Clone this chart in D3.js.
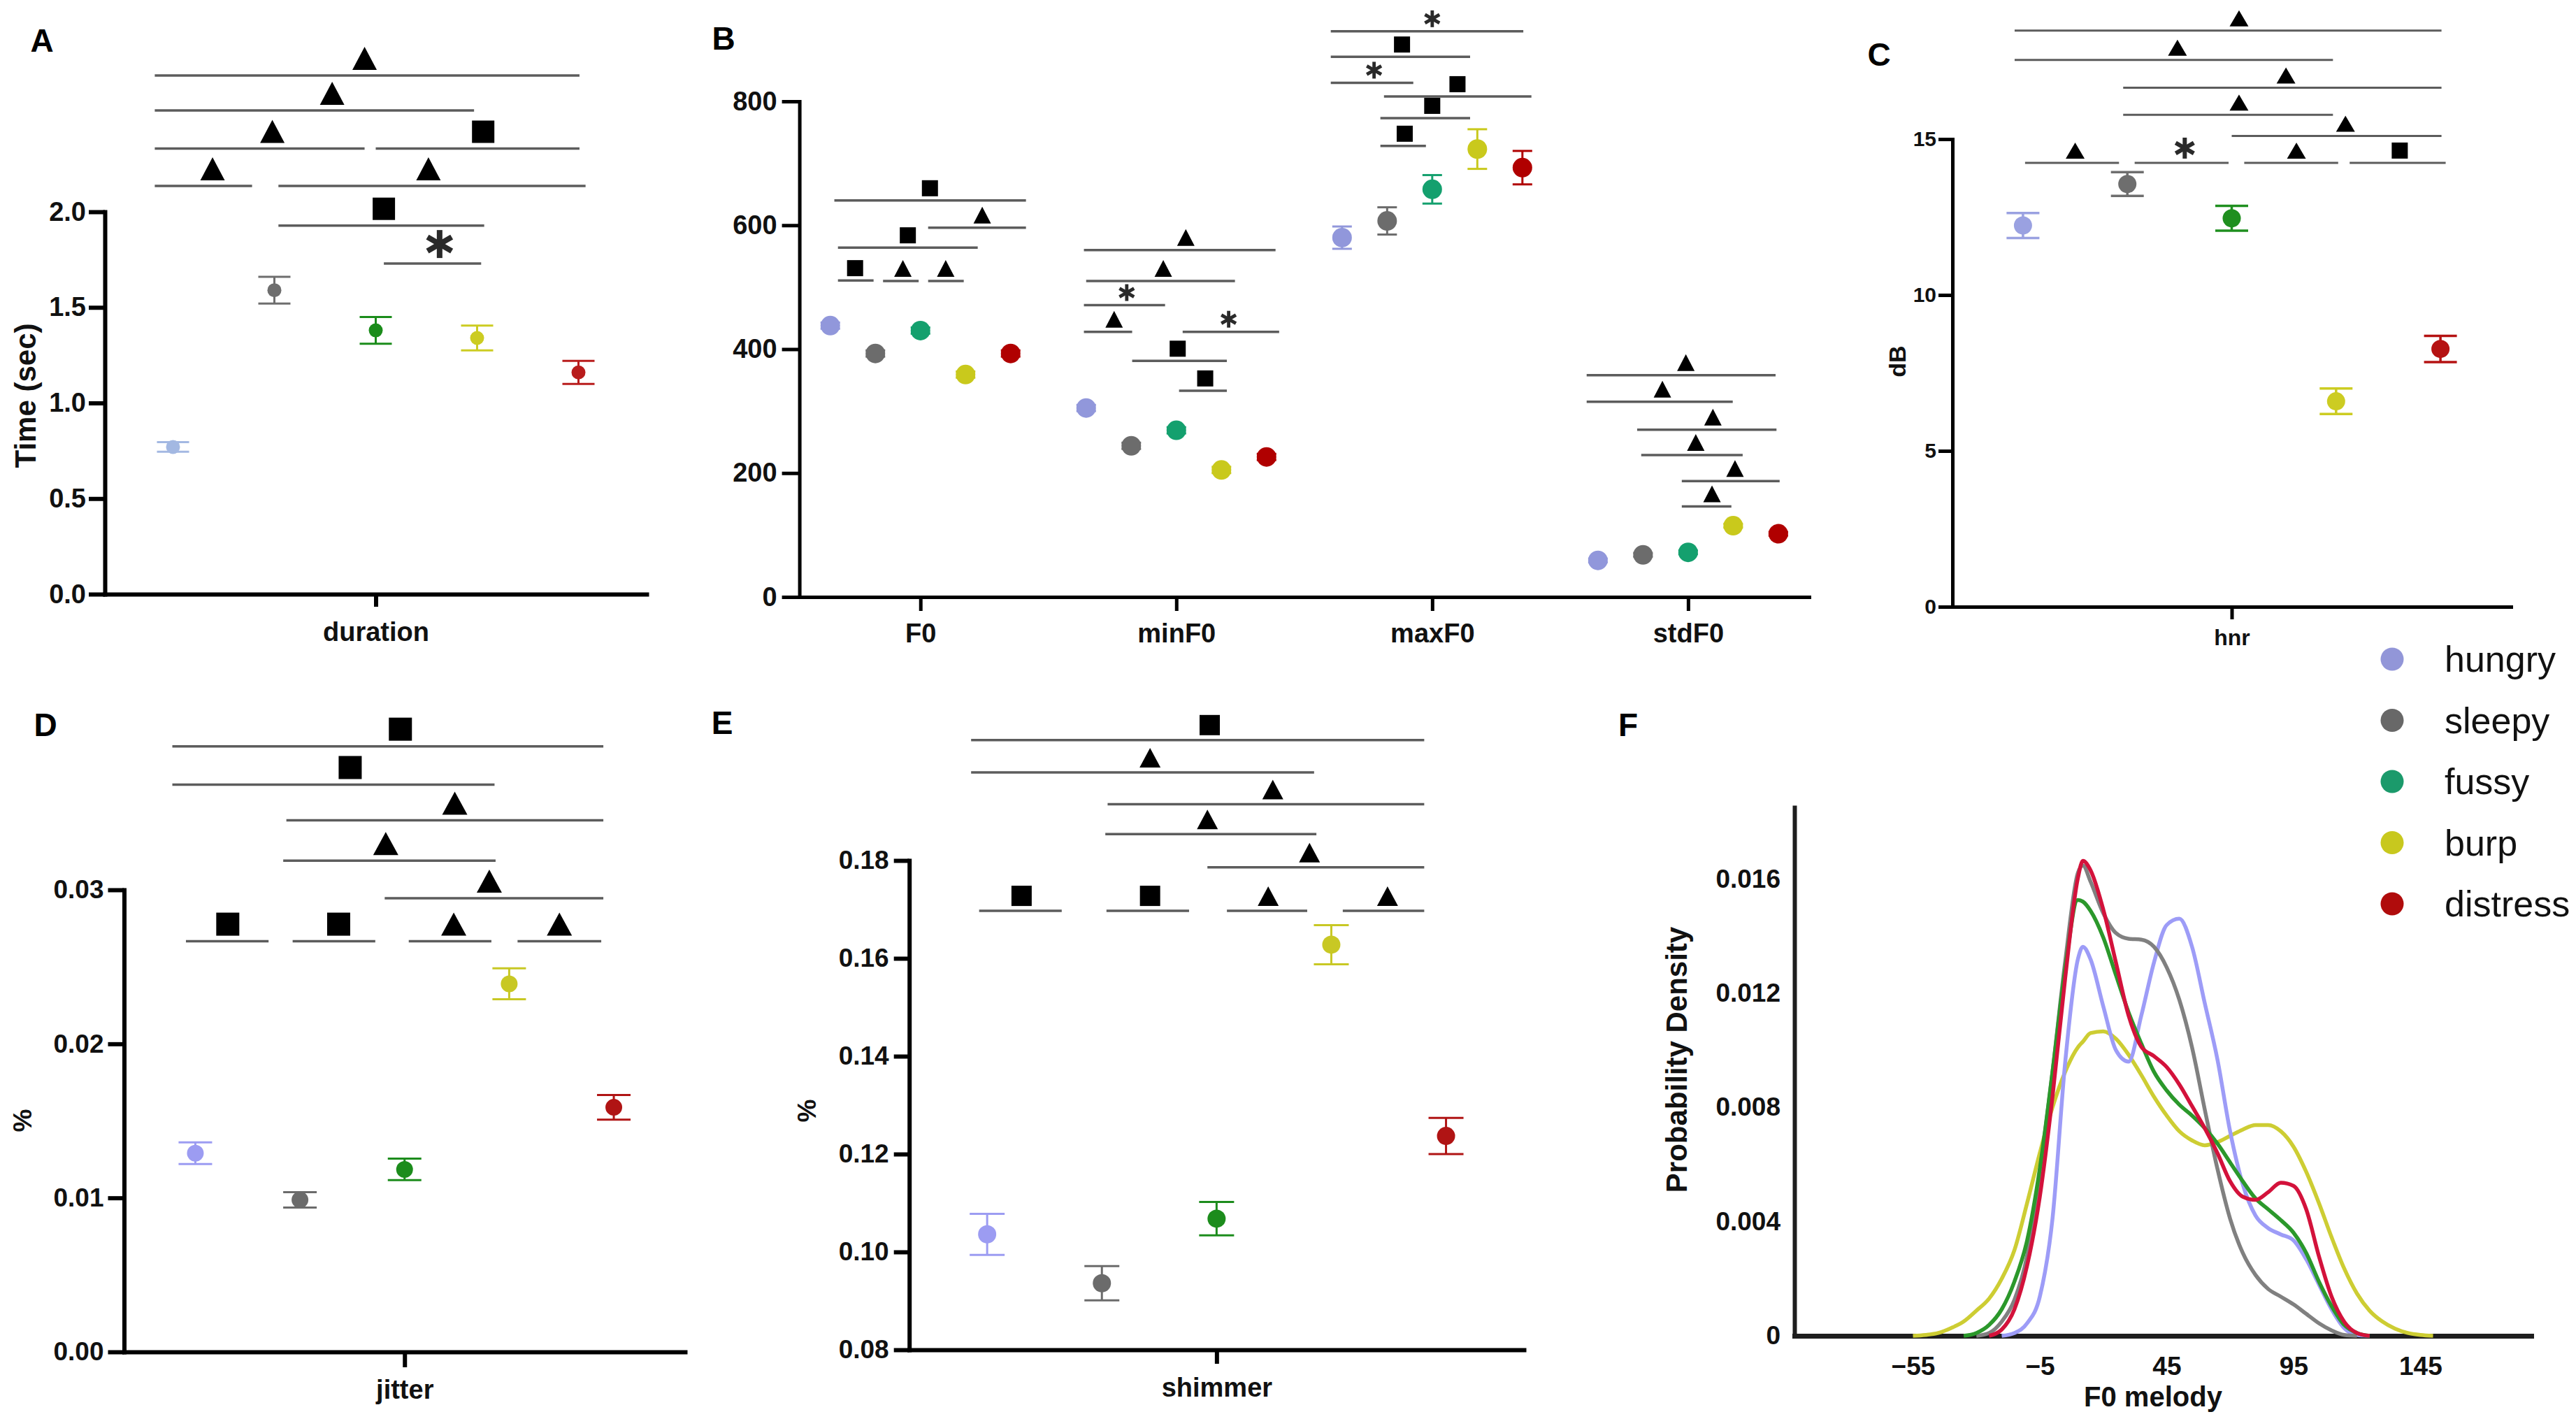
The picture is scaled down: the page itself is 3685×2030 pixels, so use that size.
<!DOCTYPE html>
<html><head><meta charset="utf-8">
<script src="https://cdn.jsdelivr.net/npm/d3@7"></script>
<style>
html,body{margin:0;padding:0;background:#fff;}
svg{display:block;}
</style></head><body>
<svg id="chart" width="3685" height="2030"></svg>
<script>
// ======================= DATA =======================
const groups = ["hungry", "sleepy", "fussy", "burp", "distress"];

// Panel A : duration
const durationCats = ["duration"];
const durationMean = [0.77, 1.59, 1.38, 1.34, 1.16];
const durationSE   = [0.025, 0.07, 0.07, 0.065, 0.06];
const durationTicks = [0, 0.5, 1.0, 1.5, 2.0];
const durationSig = [
  {a:-0.18, b:4.01, y:2.713, s:"tri", at:1.89},
  {a:-0.18, b:2.97, y:2.530, s:"tri", at:1.57},
  {a:-0.18, b:1.89, y:2.331, s:"tri", at:0.98},
  {a:2.00,  b:4.01, y:2.331, s:"sq",  at:3.06},
  {a:-0.18, b:0.78, y:2.135, s:"tri", at:0.39},
  {a:1.04,  b:4.07, y:2.135, s:"tri", at:2.52},
  {a:1.04,  b:3.07, y:1.928, s:"sq",  at:2.08},
  {a:2.08,  b:3.04, y:1.729, s:"ast", at:2.63}
];

// Panel B : pitch measures
const pitchCats = ["F0", "minF0", "maxF0", "stdF0"];
const f0Mean    = [438, 393, 430, 359, 393];
const f0SE      = [5, 5, 5, 5, 5];
const minF0Mean = [305, 244, 269, 205, 226];
const minF0SE   = [5, 5, 5, 5, 5];
const maxF0Mean = [580, 607, 658, 723, 693];
const maxF0SE   = [18, 22, 23, 32, 27];
const stdF0Mean = [59, 68, 72, 115, 102];
const stdF0SE   = [3, 3, 3, 3, 3];
const pitchTicks = [0, 200, 400, 600, 800];
const pitchSig = [
  {c:0, a:0.09,  b:4.34, y:640, s:"sq",  at:2.21},
  {c:0, a:2.17,  b:4.34, y:596, s:"tri", at:3.37},
  {c:0, a:0.17,  b:3.27, y:564, s:"sq",  at:1.72},
  {c:0, a:0.17,  b:0.96, y:511, s:"sq",  at:0.55},
  {c:0, a:1.17,  b:1.96, y:510, s:"tri", at:1.61},
  {c:0, a:2.17,  b:2.96, y:510, s:"tri", at:2.56},
  {c:1, a:-0.05, b:4.20, y:560, s:"tri", at:2.21},
  {c:1, a:0.00,  b:3.30, y:510, s:"tri", at:1.71},
  {c:1, a:-0.05, b:1.75, y:471, s:"ast", at:0.90},
  {c:1, a:-0.05, b:1.02, y:428, s:"tri", at:0.62},
  {c:1, a:2.14,  b:4.28, y:428, s:"ast", at:3.16},
  {c:1, a:1.02,  b:3.12, y:381, s:"sq",  at:2.03},
  {c:1, a:2.06,  b:3.12, y:333, s:"sq",  at:2.64},
  {c:2, a:-0.25, b:4.02, y:913, s:"ast", at:2.00},
  {c:2, a:-0.25, b:2.84, y:872, s:"sq",  at:1.33},
  {c:2, a:-0.25, b:1.58, y:830, s:"ast", at:0.71},
  {c:2, a:0.93,  b:4.20, y:808, s:"sq",  at:2.56},
  {c:2, a:0.85,  b:2.84, y:773, s:"sq",  at:2.00},
  {c:2, a:0.85,  b:1.86, y:728, s:"sq",  at:1.39},
  {c:3, a:-0.25, b:3.94, y:358, s:"tri", at:1.95},
  {c:3, a:-0.25, b:2.99, y:315, s:"tri", at:1.43},
  {c:3, a:0.87,  b:3.96, y:270, s:"tri", at:2.55},
  {c:3, a:0.96,  b:3.21, y:229, s:"tri", at:2.17},
  {c:3, a:1.86,  b:4.03, y:187, s:"tri", at:3.04},
  {c:3, a:1.86,  b:2.96, y:146, s:"tri", at:2.53}
];

// Panel C : hnr
const hnrCats = ["hnr"];
const hnrMean = [12.23, 13.56, 12.46, 6.59, 8.27];
const hnrSE   = [0.40, 0.38, 0.40, 0.41, 0.42];
const hnrTicks = [0, 5, 10, 15];
const hnrSig = [
  {a:-0.08, b:4.01, y:18.48, s:"tri", at:2.07},
  {a:-0.08, b:2.97, y:17.54, s:"tri", at:1.48},
  {a:0.96,  b:4.01, y:16.65, s:"tri", at:2.52},
  {a:0.96,  b:2.97, y:15.78, s:"tri", at:2.07},
  {a:2.00,  b:4.01, y:15.10, s:"tri", at:3.09},
  {a:0.02,  b:0.92, y:14.24, s:"tri", at:0.50},
  {a:1.07,  b:1.97, y:14.24, s:"ast", at:1.55},
  {a:2.12,  b:3.02, y:14.24, s:"tri", at:2.62},
  {a:3.13,  b:4.05, y:14.24, s:"sq",  at:3.61}
];

// Panel D : jitter
const jitterCats = ["jitter"];
const jitterMean = [0.0129, 0.00987, 0.01185, 0.0239, 0.01588];
const jitterSE   = [0.0007, 0.0005, 0.0007, 0.0010, 0.0008];
const jitterTicks = [0, 0.01, 0.02, 0.03];
const jitterSig = [
  {a:-0.22, b:3.90, y:0.03932, s:"sq",  at:1.96},
  {a:-0.22, b:2.86, y:0.03683, s:"sq",  at:1.48},
  {a:0.87,  b:3.90, y:0.03452, s:"tri", at:2.48},
  {a:0.84,  b:2.87, y:0.03189, s:"tri", at:1.82},
  {a:1.81,  b:3.90, y:0.02945, s:"tri", at:2.81},
  {a:-0.09, b:0.70, y:0.02666, s:"sq",  at:0.31},
  {a:0.93,  b:1.72, y:0.02666, s:"sq",  at:1.37},
  {a:2.04,  b:2.83, y:0.02666, s:"tri", at:2.47},
  {a:3.08,  b:3.88, y:0.02666, s:"tri", at:3.48}
];

// Panel E : shimmer
const shimmerCats = ["shimmer"];
const shimmerMean = [0.1036, 0.0936, 0.1068, 0.1628, 0.1237];
const shimmerSE   = [0.0042, 0.0035, 0.0034, 0.0040, 0.0037];
const shimmerTicks = [0.08, 0.10, 0.12, 0.14, 0.16, 0.18];
const shimmerSig = [
  {a:-0.14, b:3.81, y:0.2046, s:"sq",  at:1.94},
  {a:-0.14, b:2.85, y:0.1980, s:"tri", at:1.42},
  {a:1.05,  b:3.81, y:0.1915, s:"tri", at:2.49},
  {a:1.03,  b:2.87, y:0.1854, s:"tri", at:1.92},
  {a:1.92,  b:3.81, y:0.1786, s:"tri", at:2.81},
  {a:-0.07, b:0.65, y:0.1697, s:"sq",  at:0.30},
  {a:1.04,  b:1.76, y:0.1697, s:"sq",  at:1.42},
  {a:2.09,  b:2.79, y:0.1697, s:"tri", at:2.45},
  {a:3.10,  b:3.81, y:0.1697, s:"tri", at:3.49}
];

// Panel F : F0 melody density
const melodyX = [-55,-50,-45,-40,-35,-30,-25,-20,-15,-10,-5,0,5,10,12,15,20,25,30,35,40,45,50,55,60,65,70,75,80,85,90,95,100,105,110,115,120,125,130,135,140,145,150];
const densHungry   = [0,0,0,0,0,0,0,0,0.0001,0.00044,0.00137,0.0041,0.00957,0.01318,0.01362,0.01318,0.01154,0.0100,0.0096,0.01121,0.01307,0.01438,0.0146,0.01362,0.01165,0.00968,0.00716,0.0053,0.00421,0.00377,0.00355,0.00334,0.00268,0.0018,0.00093,0.00027,0.00003,0,0,0,0,0,0];
const densSleepy   = [0,0,0,0,0,0,0.0001,0.0005,0.00126,0.0028,0.00574,0.00924,0.0131,0.0162,0.01646,0.0159,0.0148,0.0141,0.0139,0.01387,0.01362,0.0129,0.01176,0.0101,0.00793,0.00585,0.0041,0.0029,0.00213,0.00164,0.00137,0.0011,0.00077,0.00044,0.00019,0.00003,0,0,0,0,0,0,0];
const densFussy    = [0,0,0,0,0,0.0001,0.00038,0.00093,0.0019,0.00334,0.00585,0.00924,0.01285,0.01526,0.0152,0.01488,0.01395,0.01263,0.01132,0.01023,0.00924,0.00859,0.00809,0.00771,0.00727,0.00673,0.00607,0.00541,0.00481,0.00443,0.00405,0.00361,0.0029,0.0019,0.00104,0.00038,0.0001,0,0,0,0,0,0];
const densBurp     = [0,0.00003,0.0001,0.00027,0.0005,0.00088,0.0013,0.002,0.003,0.00465,0.0064,0.008,0.00924,0.0101,0.0103,0.0106,0.01066,0.0104,0.00984,0.00913,0.00837,0.00771,0.00716,0.00684,0.00667,0.00678,0.007,0.00722,0.00738,0.00738,0.00716,0.00662,0.00574,0.00465,0.00345,0.00235,0.00148,0.00088,0.0005,0.00025,0.0001,0.00003,0];
const densDistress = [0,0,0,0,0,0,0,0.00022,0.00093,0.00246,0.00487,0.00837,0.01252,0.01602,0.01663,0.0163,0.01493,0.01307,0.01121,0.01012,0.00979,0.00941,0.0088,0.00804,0.00727,0.0064,0.00541,0.00487,0.00476,0.00503,0.00536,0.00525,0.00443,0.00279,0.00137,0.00049,0.0001,0,0,0,0,0,0];
const melodyXTicks = [-55, -5, 45, 95, 145];
const melodyYTicks = [0, 0.004, 0.008, 0.012, 0.016];

// ======================= STYLE =======================
const colorsA  = ["#a3b8e2", "#6e6e6e", "#1b8c1b", "#cccc22", "#b81c1c"];
const colorsB  = ["#9197db", "#6c6c6c", "#14a06e", "#c9c91c", "#b00000"];
const colorsC  = ["#9aa1e1", "#6e6e6e", "#1f8f1f", "#cccc22", "#b51212"];
const colorsDE = ["#9c9cf2", "#6b6b6b", "#1c8c1c", "#c8c824", "#b01414"];
const colorsF  = ["#9d9cf7", "#808080", "#2b982b", "#cdcd33", "#d3123b"];
const legendColors = ["#9296d8", "#686868", "#1b9a6b", "#c8c81e", "#b00c0c"];
const FONT = '"Liberation Sans", Arial, Helvetica, sans-serif';
const SIGCOL = "#5c5c5c";

const svg = d3.select("#chart");
svg.append("rect").attr("width", 3685).attr("height", 2030).attr("fill", "#fff");

function drawSymbol(g, kind, cx, lineY, st) {
  const yb = lineY - st.gap;
  if (kind === "tri") {
    g.append("path")
      .attr("d", `M${cx - st.triW/2},${yb} L${cx + st.triW/2},${yb} L${cx},${yb - st.triH} Z`)
      .attr("fill", "#000");
  } else if (kind === "sq") {
    g.append("rect").attr("x", cx - st.sq/2).attr("y", yb - st.sq)
      .attr("width", st.sq).attr("height", st.sq).attr("fill", "#000");
  } else {
    const r = st.ast / 2, cy = yb - r;
    [90, 30, 150].forEach(deg => {
      const t = deg * Math.PI / 180;
      g.append("line")
        .attr("x1", cx - r * Math.cos(t)).attr("y1", cy - r * Math.sin(t))
        .attr("x2", cx + r * Math.cos(t)).attr("y2", cy + r * Math.sin(t))
        .attr("stroke", "#2a2a2a").attr("stroke-width", st.ast * 0.2);
    });
  }
}

function styleAxis(ax, w, fs, weight) {
  ax.attr("font-family", FONT).attr("font-size", fs);
  ax.select(".domain").attr("stroke", "#000").attr("stroke-width", w).attr("stroke-linecap", "square");
  ax.selectAll(".tick line").attr("stroke", "#000").attr("stroke-width", w);
  ax.selectAll(".tick text").attr("fill", "#111").attr("font-weight", weight || "bold");
}

function dotPanel(o) {
  const g = svg.append("g");
  const x = d3.scalePoint().domain(o.cats).range(o.xRange).padding(o.pad);
  const off = d3.scaleLinear().domain([0, 4]).range([-2 * o.sp, 2 * o.sp]);
  const y = d3.scaleLinear().domain(o.yDomain).range(o.yRange);
  const px = (c, i) => x(o.cats[c]) + off(i);

  // significance bars
  const sg = g.append("g");
  o.sig.forEach(s => {
    const c = s.c || 0;
    const ly = y(s.y);
    sg.append("line").attr("x1", px(c, s.a)).attr("x2", px(c, s.b))
      .attr("y1", ly).attr("y2", ly)
      .attr("stroke", SIGCOL).attr("stroke-width", o.sigW);
    drawSymbol(sg, s.s, px(c, s.at), ly, o.sym);
  });

  // axes
  const ya = g.append("g").attr("transform", `translate(${o.xRange[0]},0)`)
    .call(d3.axisLeft(y).tickValues(o.ticks).tickFormat(o.fmt)
      .tickSize(o.tickLen).tickPadding(o.tickPad).tickSizeOuter(0));
  styleAxis(ya, o.axisW, o.fs);
  const xa = g.append("g").attr("transform", `translate(0,${o.yRange[0]})`)
    .call(d3.axisBottom(x).tickSize(o.xTickLen).tickPadding(o.xPad).tickSizeOuter(0));
  styleAxis(xa, o.axisW, o.xfs);

  // points with error bars
  o.series.forEach((ser, c) => {
    ser.mean.forEach((m, i) => {
      const cx = px(c, i), col = o.colors[i];
      const y1 = y(m - ser.se[i]), y2 = y(m + ser.se[i]);
      g.append("line").attr("x1", cx).attr("x2", cx).attr("y1", y1).attr("y2", y2)
        .attr("stroke", col).attr("stroke-width", o.ebW);
      [y1, y2].forEach(yy => g.append("line")
        .attr("x1", cx - o.capW/2).attr("x2", cx + o.capW/2).attr("y1", yy).attr("y2", yy)
        .attr("stroke", col).attr("stroke-width", o.ebW));
      g.append("circle").attr("cx", cx).attr("cy", y(m)).attr("r", o.r).attr("fill", col);
    });
  });

  // y label
  g.append("text").attr("transform", `translate(${o.yLabelPos[0]},${o.yLabelPos[1]}) rotate(-90)`)
    .attr("text-anchor", "middle").attr("dominant-baseline", "central")
    .attr("font-family", FONT).attr("font-weight", "bold").attr("font-size", o.ylfs)
    .attr("fill", "#111").text(o.yLabel);
  // panel letter
  g.append("text").attr("x", o.letterPos[0]).attr("y", o.letterPos[1])
    .attr("text-anchor", "middle").attr("dominant-baseline", "central")
    .attr("font-family", FONT).attr("font-weight", "bold").attr("font-size", 46)
    .attr("fill", "#000").text(o.letter);
}

// ---------- Panel A ----------
dotPanel({
  cats: durationCats, xRange: [150, 925], pad: 0.5, sp: 145,
  yDomain: [0, 2], yRange: [850, 303], ticks: durationTicks, fmt: d3.format(".1f"),
  tickLen: 23, tickPad: 4, fs: 38, xTickLen: 18, xPad: 22, xfs: 38, axisW: 6,
  series: [{mean: durationMean, se: durationSE}], colors: colorsA,
  r: 10, capW: 46, ebW: 3, sig: durationSig, sigW: 3.5,
  sym: {triW: 35, triH: 33, sq: 32, ast: 40, gap: 8},
  yLabel: "Time (sec)", yLabelPos: [36, 566], ylfs: 42, letter: "A", letterPos: [60, 58]
});

// ---------- Panel B ----------
dotPanel({
  cats: pitchCats, xRange: [1143.6, 2588], pad: 0.473, sp: 64.5,
  yDomain: [0, 800], yRange: [854, 145], ticks: pitchTicks, fmt: d3.format("d"),
  tickLen: 25, tickPad: 7, fs: 38, xTickLen: 20, xPad: 18, xfs: 38, axisW: 5,
  series: [{mean: f0Mean, se: f0SE}, {mean: minF0Mean, se: minF0SE},
           {mean: maxF0Mean, se: maxF0SE}, {mean: stdF0Mean, se: stdF0SE}],
  colors: colorsB, r: 14, capW: 28, ebW: 3, sig: pitchSig, sigW: 3.5,
  sym: {triW: 25, triH: 24, sq: 23, ast: 24, gap: 6},
  yLabel: "", yLabelPos: [0, 0], ylfs: 10, letter: "B", letterPos: [1035, 55]
});

// ---------- Panel C ----------
dotPanel({
  cats: hnrCats, xRange: [2793, 3592], pad: 0.5, sp: 149.3,
  yDomain: [0, 15], yRange: [868, 199], ticks: hnrTicks, fmt: d3.format("d"),
  tickLen: 20, tickPad: 3, fs: 30, xTickLen: 18, xPad: 14, xfs: 32, axisW: 5,
  series: [{mean: hnrMean, se: hnrSE}], colors: colorsC,
  r: 13, capW: 47, ebW: 3.5, sig: hnrSig, sigW: 3,
  sym: {triW: 27, triH: 23, sq: 23, ast: 30, gap: 6},
  yLabel: "dB", yLabelPos: [2714, 517], ylfs: 34, letter: "C", letterPos: [2688, 78]
});

// ---------- Panel D ----------
dotPanel({
  cats: jitterCats, xRange: [177.5, 980], pad: 0.5, sp: 149.65,
  yDomain: [0, 0.03], yRange: [1934, 1273], ticks: jitterTicks, fmt: d3.format(".2f"),
  tickLen: 23, tickPad: 6, fs: 37, xTickLen: 22, xPad: 18, xfs: 38, axisW: 6,
  series: [{mean: jitterMean, se: jitterSE}], colors: colorsDE,
  r: 12, capW: 48, ebW: 3, sig: jitterSig, sigW: 3.5,
  sym: {triW: 36, triH: 33, sq: 33, ast: 36, gap: 8},
  yLabel: "%", yLabelPos: [32, 1603], ylfs: 37, letter: "D", letterPos: [65, 1037]
});

// ---------- Panel E ----------
dotPanel({
  cats: shimmerCats, xRange: [1300.7, 2180], pad: 0.5, sp: 164.1,
  yDomain: [0.08, 0.18], yRange: [1931, 1231], ticks: shimmerTicks, fmt: d3.format(".2f"),
  tickLen: 22, tickPad: 7, fs: 37, xTickLen: 20, xPad: 20, xfs: 38, axisW: 6,
  series: [{mean: shimmerMean, se: shimmerSE}], colors: colorsDE,
  r: 13, capW: 50, ebW: 3, sig: shimmerSig, sigW: 3.5,
  sym: {triW: 30, triH: 28, sq: 29, ast: 30, gap: 7},
  yLabel: "%", yLabelPos: [1154, 1589], ylfs: 37, letter: "E", letterPos: [1033, 1034]
});

// ---------- Panel F ----------
(function () {
  const g = svg.append("g");
  const x = d3.scaleLinear().domain([-101.7, 188.7]).range([2567, 3621]);
  const y = d3.scaleLinear().domain([0, 0.0185]).range([1911, 1155]);
  const ya = g.append("g").attr("transform", "translate(2567,0)")
    .call(d3.axisLeft(y).tickValues(melodyYTicks)
      .tickFormat(d => d === 0 ? "0" : d3.format(".3f")(d))
      .tickSize(0).tickPadding(20).tickSizeOuter(0));
  styleAxis(ya, 6, 37, "normal");
  ya.select(".domain").attr("stroke", "#1e1e1e");
  const xa = g.append("g").attr("transform", "translate(0,1911)")
    .call(d3.axisBottom(x).tickValues(melodyXTicks).tickFormat(d3.format("d"))
      .tickSize(0).tickPadding(30).tickSizeOuter(0));
  styleAxis(xa, 7, 37, "bold");
  xa.select(".domain").attr("stroke", "#1e1e1e");
  ya.selectAll(".tick text").attr("font-weight", "bold");

  const seriesF = [
    {vals: densBurp, col: colorsF[3]},
    {vals: densHungry, col: colorsF[0]},
    {vals: densSleepy, col: colorsF[1]},
    {vals: densFussy, col: colorsF[2]},
    {vals: densDistress, col: colorsF[4]}
  ];
  const line = d3.line().x(d => x(d[0])).y(d => y(d[1])).curve(d3.curveMonotoneX);
  seriesF.forEach(s => {
    const pts = melodyX.map((v, i) => [v, s.vals[i]])
      .filter((p, i, arr) => p[1] > 0 || (arr[i-1] && arr[i-1][1] > 0) || (arr[i+1] && arr[i+1][1] > 0));
    g.append("path").datum(pts).attr("d", line).attr("fill", "none")
      .attr("stroke", s.col).attr("stroke-width", 5.5).attr("stroke-linejoin", "round");
  });

  g.append("text").attr("transform", "translate(2398,1516) rotate(-90)")
    .attr("text-anchor", "middle").attr("dominant-baseline", "central")
    .attr("font-family", FONT).attr("font-weight", "bold").attr("font-size", 42)
    .attr("fill", "#111").text("Probability Density");
  g.append("text").attr("x", 3080).attr("y", 1998)
    .attr("text-anchor", "middle").attr("dominant-baseline", "central")
    .attr("font-family", FONT).attr("font-weight", "bold").attr("font-size", 40)
    .attr("fill", "#111").text("F0 melody");
  g.append("text").attr("x", 2329).attr("y", 1037)
    .attr("text-anchor", "middle").attr("dominant-baseline", "central")
    .attr("font-family", FONT).attr("font-weight", "bold").attr("font-size", 46)
    .attr("fill", "#000").text("F");
})();

// ---------- Legend ----------
(function () {
  const ly = d3.scalePoint().domain(groups).range([943, 1293]);
  const lg = svg.append("g");
  groups.forEach((gname, i) => {
    lg.append("circle").attr("cx", 3422).attr("cy", ly(gname)).attr("r", 16.5).attr("fill", legendColors[i]);
    lg.append("text").attr("x", 3497).attr("y", ly(gname))
      .attr("dominant-baseline", "central").attr("font-family", FONT)
      .attr("font-size", 52).attr("fill", "#111").text(gname);
  });
})();
</script>
</body></html>
